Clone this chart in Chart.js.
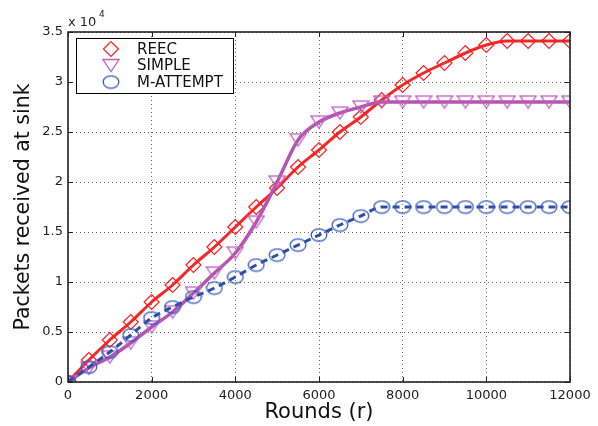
<!DOCTYPE html>
<html>
<head>
<meta charset="utf-8">
<script src="https://cdn.jsdelivr.net/npm/chart.js@4.4.1/dist/chart.umd.min.js"></script>
<style>
html, body { margin: 0; padding: 0; background: #fff; }
#wrap { width: 598px; height: 426px; }
</style>
</head>
<body>
<div id="wrap"><canvas id="packetsChart"></canvas></div>
<script>
// rounds (x) and packets received at sink (y)
const rounds = [0, 500, 1000, 1500, 2000, 2500, 3000, 3500, 4000, 4500, 5000, 5500, 6000,
	6500, 7000, 7500, 8000, 8500, 9000, 9500, 10000, 10500, 11000, 11500, 12000];
const reecPackets = [0, 2200, 4200, 6000, 8000, 9700, 11700, 13500, 15500, 17500, 19400, 21500, 23200,
	25000, 26500, 28200, 29700, 30900, 31900, 32900, 33700, 34100, 34100, 34100, 34100];
const simplePackets = [0, 1400, 2500, 3900, 5500, 7000, 8900, 10900, 12900, 16000, 20000, 24200, 26000,
	26900, 27500, 28000, 28000, 28000, 28000, 28000, 28000, 28000, 28000, 28000, 28000];
const mattemptPackets = [0, 1500, 3000, 4700, 6400, 7500, 8500, 9400, 10500, 11700, 12700, 13700, 14700,
	15700, 16600, 17500, 17500, 17500, 17500, 17500, 17500, 17500, 17500, 17500, 17500];
const seriesLabels = ['REEC', 'SIMPLE', 'M-ATTEMPT'];
const xTicks = [0, 2000, 4000, 6000, 8000, 10000, 12000];
const yTicks = [0, 5000, 10000, 15000, 20000, 25000, 30000, 35000];

const FONT = "'DejaVu Sans', 'Liberation Sans', Arial, sans-serif";

function makeMarker(w, h, color, draw) {
	let c = document.createElement('canvas');
	c.width = w;
	c.height = h;
	let g = c.getContext('2d');
	g.strokeStyle = color;
	g.lineWidth = 1.3;
	draw(g);
	return c;
}

// matlab style markers (the figure is stretched, so circles look like ellipses)
const ellipseMarker = makeMarker(18, 15, '#3558c0', g => {
	g.beginPath();
	g.ellipse(9, 7.5, 7.8, 6.2, 0, 0, Math.PI * 2);
	g.stroke();
});
const triangleMarker = makeMarker(18, 15, '#c060c4', g => {
	g.beginPath();
	g.moveTo(1, 1.5);
	g.lineTo(17, 1.5);
	g.lineTo(9, 13.5);
	g.closePath();
	g.stroke();
});

function toPoints(values) {
	return rounds.map((r, i) => ({ x: r, y: values[i] }));
}

// frame with inward ticks on all four sides
const frameTicks = {
	id: 'frameTicks',
	afterDatasetsDraw(chart) {
		let ctx = chart.ctx;
		let a = chart.chartArea;
		let xs = chart.scales.x, ys = chart.scales.y;
		ctx.save();
		ctx.strokeStyle = '#222';
		ctx.lineWidth = 1;
		ctx.beginPath();
		xTicks.forEach(v => {
			let px = Math.round(xs.getPixelForValue(v)) + 0.5;
			ctx.moveTo(px, a.bottom); ctx.lineTo(px, a.bottom - 5);
			ctx.moveTo(px, a.top); ctx.lineTo(px, a.top + 5);
		});
		yTicks.forEach(v => {
			let py = Math.round(ys.getPixelForValue(v)) + 0.5;
			ctx.moveTo(a.left, py); ctx.lineTo(a.left + 5, py);
			ctx.moveTo(a.right, py); ctx.lineTo(a.right - 5, py);
		});
		ctx.stroke();
		ctx.lineWidth = 1.6;
		ctx.strokeRect(a.left, a.top, a.right - a.left, a.bottom - a.top);
		ctx.restore();
	}
};

// boxed legend in the upper left and the x10^4 exponent label
const legendBox = {
	id: 'legendBox',
	afterDraw(chart) {
		let ctx = chart.ctx;
		let a = chart.chartArea;
		let x0 = a.left + 8, y0 = a.top + 6, w = 157, h = 55;
		ctx.save();
		ctx.fillStyle = '#fff';
		ctx.fillRect(x0, y0, w, h);
		ctx.strokeStyle = '#000';
		ctx.lineWidth = 1;
		ctx.strokeRect(x0 + 0.5, y0 + 0.5, w, h);
		chart.data.datasets.forEach((ds, i) => {
			let cy = y0 + 11 + i * 16.5;
			ctx.fillStyle = 'rgba(0,0,0,0)';
			ctx.strokeStyle = ds.pointBorderColor;
			ctx.lineWidth = ds.pointBorderWidth;
			Chart.helpers.drawPoint(ctx, {
				pointStyle: ds.pointStyle,
				radius: ds.pointRadius,
				rotation: 0,
				borderWidth: ds.pointBorderWidth
			}, x0 + 35, cy);
			ctx.fillStyle = '#111';
			ctx.font = '15px ' + FONT;
			ctx.textBaseline = 'middle';
			ctx.textAlign = 'left';
			ctx.fillText(ds.label, x0 + 61, cy + 1);
		});
		ctx.fillStyle = '#222';
		ctx.textBaseline = 'alphabetic';
		ctx.font = '13px ' + FONT;
		ctx.fillText('x 10', a.left, a.top - 6);
		ctx.font = '9px ' + FONT;
		ctx.fillText('4', a.left + 31, a.top - 15);
		ctx.restore();
	}
};

let ctx = document.getElementById('packetsChart');

new Chart(ctx, {
	type: 'line',
	data: {
		datasets: [
			{
				label: seriesLabels[0],
				data: toPoints(reecPackets),
				order: 3,
				borderColor: '#f02828',
				borderWidth: 3,
				pointStyle: 'rectRot',
				pointRadius: 7.5,
				pointBorderColor: '#ff1e1e',
				pointBorderWidth: 1.2,
				pointBackgroundColor: 'rgba(0,0,0,0)',
				cubicInterpolationMode: 'monotone'
			},
			{
				label: seriesLabels[1],
				data: toPoints(simplePackets),
				order: 2,
				borderColor: '#b455b0',
				borderWidth: 3.5,
				pointStyle: triangleMarker,
				pointRadius: 7,
				pointBorderColor: '#c060c4',
				pointBorderWidth: 1.2,
				pointBackgroundColor: 'rgba(0,0,0,0)',
				cubicInterpolationMode: 'monotone'
			},
			{
				label: seriesLabels[2],
				data: toPoints(mattemptPackets),
				order: 1,
				borderColor: '#2d4fa3',
				borderWidth: 3,
				borderDash: [7, 5],
				pointStyle: ellipseMarker,
				pointRadius: 7,
				pointBorderColor: '#3558c0',
				pointBorderWidth: 1.2,
				pointBackgroundColor: 'rgba(0,0,0,0)',
				cubicInterpolationMode: 'monotone'
			}
		]
	},
	options: {
		responsive: true,
		maintainAspectRatio: false,
		animation: false,
		events: [],
		layout: {
			padding: { top: 32, right: 28, left: 0, bottom: 0 }
		},
		plugins: {
			legend: { display: false },
			tooltip: { enabled: false }
		},
		scales: {
			x: {
				type: 'linear',
				min: 0,
				max: 12000,
				afterFit(scale) { scale.height = 44; },
				ticks: {
					stepSize: 2000,
					padding: 6,
					color: '#222',
					font: { family: FONT, size: 13 },
					maxRotation: 0,
					callback: v => String(v)
				},
				grid: { color: 'rgba(0,0,0,0.6)', lineWidth: 1, drawTicks: false },
				border: { display: false, dash: [1, 3] },
				title: {
					display: true,
					text: 'Rounds (r)',
					color: '#111',
					font: { family: FONT, size: 21 },
					padding: { top: 0, bottom: 1 }
				}
			},
			y: {
				min: 0,
				max: 35000,
				afterFit(scale) { scale.width = 68; },
				ticks: {
					stepSize: 5000,
					padding: 5,
					color: '#222',
					font: { family: FONT, size: 13 },
					callback: v => String(v / 10000)
				},
				grid: { color: 'rgba(0,0,0,0.6)', lineWidth: 1, drawTicks: false },
				border: { display: false, dash: [1, 3] },
				title: {
					display: true,
					text: 'Packets received at sink',
					color: '#111',
					font: { family: FONT, size: 20.5 },
					padding: { top: 11, bottom: 0 }
				}
			}
		}
	},
	plugins: [frameTicks, legendBox]
});
</script>
</body>
</html>
